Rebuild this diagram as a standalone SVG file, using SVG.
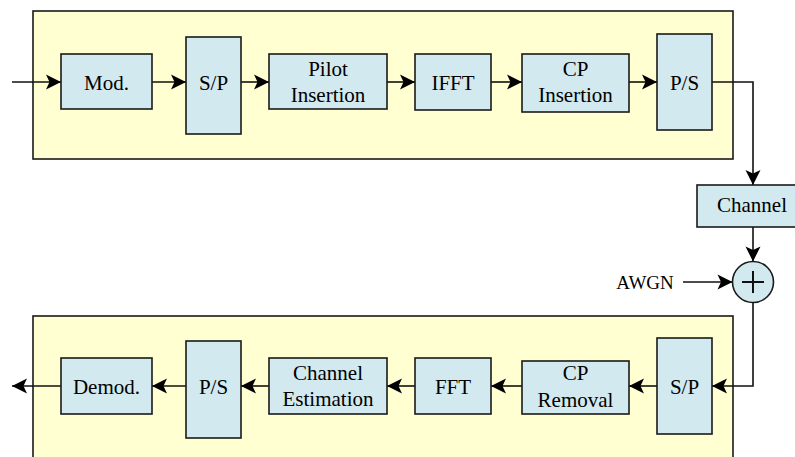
<svg xmlns="http://www.w3.org/2000/svg" width="795" height="457" viewBox="0 0 795 457">
<style>
.cont{fill:#FFFFD2;stroke:#1a1a1a;stroke-width:1.6}
.box{fill:#D2E9EF;stroke:#1a1a1a;stroke-width:1.6}
.t{font-family:'Liberation Serif','Times New Roman',Times,serif;font-size:21px;fill:#000;text-anchor:middle}
.c{fill:none;stroke:#111;stroke-width:1.6}
</style>
<defs>
<marker id="a" markerUnits="userSpaceOnUse" markerWidth="18" markerHeight="18" viewBox="0 0 18 18" refX="16" refY="9" orient="auto">
<path d="M1,1.5 L16,9 L1,16.5 L4.5,9 Z" fill="#000"/>
</marker>
</defs>
<g id="tx-frame"><rect class="cont" x="33" y="11" width="700" height="148"/></g>
<g id="rx-frame"><rect class="cont" x="33" y="316" width="700" height="160"/></g>
<g id="connectors">
<path class="c" d="M12,82 H61" marker-end="url(#a)"/>
<path class="c" d="M152,82 H186" marker-end="url(#a)"/>
<path class="c" d="M241,82 H269" marker-end="url(#a)"/>
<path class="c" d="M387,82 H415" marker-end="url(#a)"/>
<path class="c" d="M491,82 H522" marker-end="url(#a)"/>
<path class="c" d="M629,82 H657" marker-end="url(#a)"/>
<path class="c" d="M712,82 H753 V185" marker-end="url(#a)"/>
<path class="c" d="M753,227 V261.5" marker-end="url(#a)"/>
<path class="c" d="M683,282 H732.5" marker-end="url(#a)"/>
<path class="c" d="M753,302.5 V386 H712" marker-end="url(#a)"/>
<path class="c" d="M657,386 H629" marker-end="url(#a)"/>
<path class="c" d="M522,386 H491" marker-end="url(#a)"/>
<path class="c" d="M415,386 H387" marker-end="url(#a)"/>
<path class="c" d="M269,386 H241" marker-end="url(#a)"/>
<path class="c" d="M186,386 H152" marker-end="url(#a)"/>
<path class="c" d="M61,386 H12" marker-end="url(#a)"/>
</g>
<g id="mod"><rect class="box" x="61" y="54" width="91" height="55"/><text class="t" x="106.5" y="89.5">Mod.</text></g>
<g id="sp1"><rect class="box" x="186" y="37" width="55" height="97"/><text class="t" x="213.5" y="89.5">S/P</text></g>
<g id="pilot"><rect class="box" x="269" y="54" width="118" height="55"/><text class="t" x="328" y="76">Pilot</text><text class="t" x="328" y="102">Insertion</text></g>
<g id="ifft"><rect class="box" x="415" y="54" width="76" height="56"/><text class="t" x="453" y="89.5">IFFT</text></g>
<g id="cpins"><rect class="box" x="522" y="54" width="107" height="58"/><text class="t" x="575.5" y="76">CP</text><text class="t" x="575.5" y="102">Insertion</text></g>
<g id="ps1"><rect class="box" x="657" y="34" width="55" height="96"/><text class="t" x="684.5" y="89.5">P/S</text></g>
<g id="channel"><rect class="box" x="697" y="185" width="112" height="42"/><text class="t" x="752" y="212">Channel</text></g>
<g id="adder"><circle class="box" cx="753" cy="282" r="20.5"/><path d="M742,282 H764 M753,271 V293" stroke="#111" stroke-width="2"/></g>
<g id="awgn"><text class="t" x="645" y="289" style="font-size:19px">AWGN</text></g>
<g id="sp2"><rect class="box" x="657" y="338" width="55" height="96"/><text class="t" x="684.5" y="393.5">S/P</text></g>
<g id="cprem"><rect class="box" x="522" y="361" width="107" height="53"/><text class="t" x="575.5" y="380">CP</text><text class="t" x="575.5" y="407">Removal</text></g>
<g id="fft"><rect class="box" x="415" y="358" width="76" height="56"/><text class="t" x="453" y="393.5">FFT</text></g>
<g id="chest"><rect class="box" x="269" y="358" width="118" height="56"/><text class="t" x="328" y="380">Channel</text><text class="t" x="328" y="406">Estimation</text></g>
<g id="ps2"><rect class="box" x="186" y="341" width="55" height="97"/><text class="t" x="213.5" y="393.5">P/S</text></g>
<g id="demod"><rect class="box" x="61" y="358" width="91" height="56"/><text class="t" x="106.5" y="393.5">Demod.</text></g>
</svg>
